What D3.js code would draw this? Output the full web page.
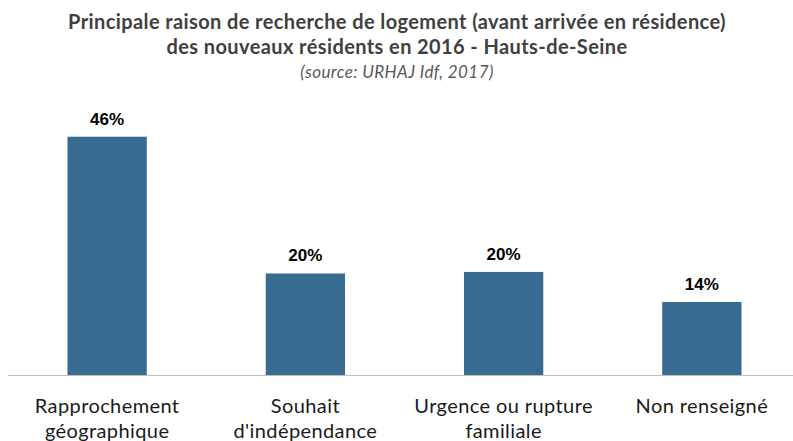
<!DOCTYPE html>
<html>
<head>
<meta charset="utf-8">
<script src="https://cdn.jsdelivr.net/npm/d3@7"></script>
<style>
  body { margin: 0; background: #fff; }
  svg { display: block; }
</style>
</head>
<body>
<svg id="chart"></svg>
<script>
const width = 793;
const height = 441;

// Data
const categories = [
  ["Rapprochement", "géographique"],
  ["Souhait", "d'indépendance"],
  ["Urgence ou rupture", "familiale"],
  ["Non renseigné"]
];
const values = [0.46, 0.196, 0.199, 0.141];
const titleLines = [
  "Principale raison de recherche de logement (avant arrivée en résidence)",
  "des nouveaux résidents en 2016 - Hauts-de-Seine"
];
const sourceText = "(source: URHAJ Idf, 2017)";

const svg = d3.select("#chart")
  .attr("width", width)
  .attr("height", height);

const baseY = 375;

const x = d3.scaleBand()
  .domain(d3.range(values.length))
  .range([8, 801])
  .paddingInner(0.6)
  .paddingOuter(0.3);

const y = d3.scaleLinear()
  .domain([0, 0.5])
  .range([baseY, 116]);

// Title
svg.append("g")
  .selectAll("text")
  .data(titleLines)
  .enter().append("text")
  .attr("x", 397)
  .attr("y", (d, i) => 29 + i * 25)
  .attr("text-anchor", "middle")
  .attr("font-family", "Lato, 'Open Sans', sans-serif")
  .attr("font-weight", "bold")
  .attr("font-size", 20)
  .attr("letter-spacing", 0.4)
  .attr("fill", "#404040")
  .text(d => d);

svg.append("text")
  .attr("x", 397)
  .attr("y", 78)
  .attr("text-anchor", "middle")
  .attr("font-family", "Lato, 'Open Sans', sans-serif")
  .attr("font-style", "italic")
  .attr("font-size", 17)
  .attr("letter-spacing", 0.4)
  .attr("fill", "#595959")
  .text(sourceText);

// Bars
svg.append("g")
  .selectAll("rect")
  .data(values)
  .enter().append("rect")
  .attr("x", (d, i) => x(i))
  .attr("y", d => y(d))
  .attr("width", x.bandwidth())
  .attr("height", d => baseY - y(d))
  .attr("fill", "#386B92");

// Value labels
svg.append("g")
  .selectAll("text")
  .data(values)
  .enter().append("text")
  .attr("x", (d, i) => x(i) + x.bandwidth() / 2)
  .attr("y", d => y(d) - 12)
  .attr("text-anchor", "middle")
  .attr("font-family", "Arial, 'Liberation Sans', sans-serif")
  .attr("font-weight", "bold")
  .attr("font-size", 17)
  .attr("fill", "#000")
  .text(d => d3.format(".0%")(d));

// Baseline
svg.append("line")
  .attr("x1", 8)
  .attr("x2", width)
  .attr("y1", baseY + 0.5)
  .attr("y2", baseY + 0.5)
  .attr("stroke", "#bfbfbf")
  .attr("stroke-width", 1);

// Category labels
const catLabel = svg.append("g")
  .selectAll("text")
  .data(categories)
  .enter().append("text")
  .attr("x", (d, i) => x(i) + x.bandwidth() / 2)
  .attr("y", 413)
  .attr("text-anchor", "middle")
  .attr("font-family", "Lato, 'Open Sans', sans-serif")
  .attr("font-size", 20)
  .attr("letter-spacing", 0.4)
  .attr("fill", "#1a1a1a");

catLabel.selectAll("tspan")
  .data(d => d)
  .enter().append("tspan")
  .attr("x", function() { return d3.select(this.parentNode).attr("x"); })
  .attr("dy", (d, i) => i === 0 ? 0 : 24.5)
  .text(d => d);
</script>
</body>
</html>
